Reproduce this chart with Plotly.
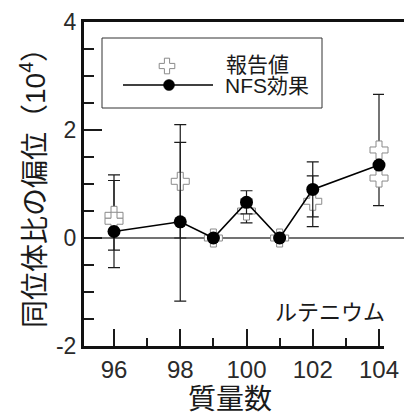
import plotly.graph_objects as go

# Mass numbers and isotope-ratio deviations (x 10^4)
mass_nfs = [96, 98, 99, 100, 101, 102, 104]
dev_nfs = [0.12, 0.30, 0.0, 0.66, 0.0, 0.90, 1.35]
err_nfs = [0.0, 1.47, 0.0, 0.215, 0.0, 0.51, 0.0]

mass_rep = [96, 96, 98, 99, 100, 101, 102, 104, 104]
dev_rep = [0.42, 0.31, 1.05, 0.0, 0.50, 0.0, 0.68, 1.63, 1.11]
err_rep = [0.645, 0.86, 1.05, 0.0, 0.22, 0.0, 0.47, 1.03, 0.0]

x_ticks = [96, 98, 100, 102, 104]
y_ticks = [-2, 0, 2, 4]

W, H = 404, 415
L, R, T, B = 84, 384, 22, 346  # plot-area edges in pixels
PX_PER_MASS = 33.125

FONT = "Liberation Sans, Arial, Noto Sans CJK JP, sans-serif"
INK = "#1a1a1a"


def px(x):
    return (x - L) / (R - L)


def py(y):
    return (B - y) / (B - T)


fig = go.Figure()

# reported values: white crosses with grey outline
fig.add_trace(go.Scatter(
    x=mass_rep, y=dev_rep, mode="markers",
    marker=dict(symbol="cross", size=15, color="white",
                line=dict(color="#8a8a8a", width=1)),
    error_y=dict(type="data", array=err_rep, visible=True,
                 color=INK, thickness=1.2, width=6),
    showlegend=False, cliponaxis=False,
))

# NFS effect: black circles joined by a line
fig.add_trace(go.Scatter(
    x=mass_nfs, y=dev_nfs, mode="lines+markers",
    line=dict(color="black", width=1.6),
    marker=dict(symbol="circle", size=13, color="black"),
    error_y=dict(type="data", array=err_nfs, visible=True,
                 color=INK, thickness=1.2, width=6),
    showlegend=False, cliponaxis=False,
))

fig.update_layout(
    width=W, height=H,
    margin=dict(l=L, r=W - R, t=T, b=H - B),
    paper_bgcolor="white", plot_bgcolor="white",
    font=dict(family=FONT, color=INK),
    xaxis=dict(
        range=[96 - (114 - L) / PX_PER_MASS, 104 + (R - 379) / PX_PER_MASS],
        automargin=False,
        tickvals=x_ticks, ticktext=[str(v) for v in x_ticks],
        ticks="inside", ticklen=17, tickwidth=2, tickcolor=INK,
        minor=dict(dtick=1, tick0=96, ticks="inside", ticklen=8,
                   tickwidth=2, tickcolor=INK, showgrid=False),
        showline=True, linewidth=3, linecolor="#111",
        showgrid=False, zeroline=False,
        tickfont=dict(size=24, color="#2a2a2a"),
    ),
    yaxis=dict(
        range=[-2, 4],
        automargin=False,
        tickvals=y_ticks, ticktext=[str(v) for v in y_ticks],
        ticks="inside", ticklen=18, tickwidth=2, tickcolor=INK,
        minor=dict(dtick=0.5, tick0=0, ticks="inside", ticklen=10,
                   tickwidth=2, tickcolor=INK, showgrid=False),
        showline=True, linewidth=3, linecolor="#111",
        showgrid=False, zeroline=False,
        tickfont=dict(size=23, color="#2a2a2a"),
    ),
)

# zero line and top frame edge, both running to the right edge of the figure
fig.add_shape(type="line", xref="paper", yref="y", layer="below",
              x0=0, x1=px(W), y0=0, y1=0,
              line=dict(color="#444", width=1.5))
fig.add_shape(type="line", xref="paper", yref="paper",
              x0=px(L - 3), x1=px(W), y0=py(T - 1.5), y1=py(T - 1.5),
              line=dict(color="#111", width=3))

# legend frame
fig.add_shape(type="rect", xref="paper", yref="paper",
              x0=px(102), x1=px(322), y0=py(108), y1=py(38),
              line=dict(color="#333", width=1), fillcolor="rgba(0,0,0,0)")


def cross_path(cx, cy, size):
    r = size / 2
    a, b = 0.4 * r, 1.2 * r
    pts = [(b, a), (a, a), (a, b), (-a, b), (-a, a), (-b, a),
           (-b, -a), (-a, -a), (-a, -b), (a, -b), (a, -a), (b, -a)]
    return "M" + "L".join(f"{px(cx + dx):.5f},{py(cy + dy):.5f}"
                          for dx, dy in pts) + "Z"


# legend samples
fig.add_shape(type="path", xref="paper", yref="paper",
              path=cross_path(167, 66, 13),
              fillcolor="white", line=dict(color="#8a8a8a", width=1))
fig.add_shape(type="line", xref="paper", yref="paper",
              x0=px(123), x1=px(213), y0=py(85), y1=py(85),
              line=dict(color="black", width=1.5))
fig.add_shape(type="circle", xref="paper", yref="paper",
              x0=px(169 - 5.5), x1=px(169 + 5.5),
              y0=py(85 + 5.5), y1=py(85 - 5.5),
              fillcolor="black", line=dict(color="black", width=0.5))

annotations = [
    dict(text="報告値", x=px(224), y=py(64), xanchor="left", yanchor="middle",
         font=dict(size=21)),
    dict(text="NFS効果", x=px(223), y=py(85), xanchor="left", yanchor="middle",
         font=dict(size=21)),
    dict(text="ルテニウム", x=px(330), y=py(312), xanchor="center",
         yanchor="middle", font=dict(size=22)),
    dict(text="質量数", x=px(230), y=py(399), xanchor="center",
         yanchor="middle", font=dict(size=28)),
    dict(text="同位体比の偏位（10<sup>4</sup>）", x=px(33), y=py(181),
         xanchor="center", yanchor="middle", textangle=-90,
         font=dict(size=28)),
]
for a in annotations:
    fig.add_annotation(xref="paper", yref="paper", showarrow=False, **a)

fig.write_html("out.html")
